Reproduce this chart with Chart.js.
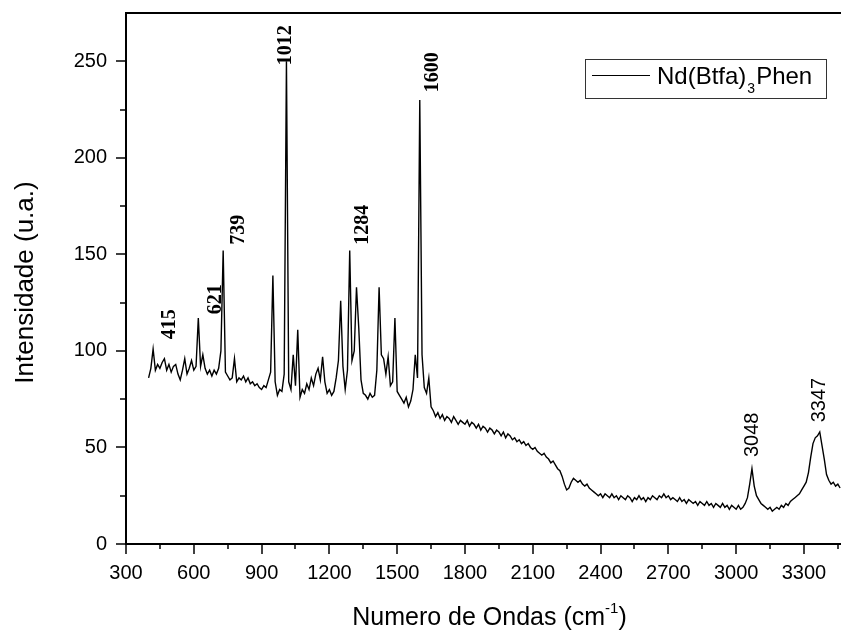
<!DOCTYPE html>
<html>
<head>
<meta charset="utf-8">
<script src="https://cdn.jsdelivr.net/npm/chart.js@4.4.0/dist/chart.umd.min.js"></script>
<style>
    html, body { margin: 0; padding: 0; background: #fff; }
    canvas { display: block; }
</style>
</head>
<body>
<canvas id="ramanChart" width="841" height="630"></canvas>
<script>
// Raman spectrum of Nd(Btfa)3Phen, sampled every 10 cm-1 starting at 400 cm-1
const waveStart = 400;
const waveStep = 10;
const intensity = [
    86, 91, 101, 90, 93, 91, 94, 96, 90, 93,      // 400
    89, 92, 93, 88, 85, 90, 96, 88, 91, 95,       // 500
    90, 92, 117, 92, 98, 91, 88, 90, 87, 90,      // 600
    88, 91, 100, 152, 89, 87, 85, 86, 96, 84,     // 700
    86, 85, 87, 84, 86, 83, 84, 82, 83, 81,       // 800
    80, 82, 81, 85, 89, 139, 84, 77, 80, 79,      // 900
    88, 250, 84, 80, 98, 82, 111, 76, 80, 78,     // 1000
    83, 80, 86, 82, 88, 91, 85, 97, 84, 78,       // 1100
    80, 77, 79, 86, 95, 126, 92, 80, 90, 152,     // 1200
    95, 100, 133, 112, 85, 78, 77, 75, 78, 76,    // 1300
    77, 90, 133, 98, 96, 88, 97, 82, 84, 117,     // 1400
    79, 77, 75, 73, 76, 71, 74, 80, 98, 86,       // 1500
    230, 98, 81, 78, 86, 71, 69, 66, 68, 65,      // 1600
    67, 64, 66, 65, 63, 66, 64, 62, 64, 63,       // 1700
    62, 64, 61, 63, 62, 60, 62, 59, 61, 60,       // 1800
    58, 60, 59, 57, 59, 58, 56, 58, 55, 57,       // 1900
    56, 54, 55, 53, 54, 52, 53, 51, 52, 50,       // 2000
    49, 50, 48, 47, 46, 47, 45, 44, 42, 43,       // 2100
    41, 39, 38, 35, 31, 28, 29, 32, 34, 33,       // 2200
    32, 33, 31, 30, 31, 29, 28, 27, 26, 25,       // 2300
    26, 24, 26, 25, 24, 26, 24, 25, 23, 25,       // 2400
    24, 23, 25, 24, 22, 24, 23, 25, 23, 24,       // 2500
    22, 24, 23, 25, 24, 23, 25, 24, 26, 24,       // 2600
    25, 23, 24, 23, 22, 24, 22, 23, 21, 23,       // 2700
    22, 21, 22, 20, 22, 21, 20, 22, 20, 21,       // 2800
    19, 21, 20, 19, 21, 19, 20, 18, 20, 19,       // 2900
    18, 20, 18, 19, 21, 24, 31, 39, 30, 25,       // 3000
    23, 21, 20, 19, 18, 19, 17, 18, 19, 18,       // 3100
    20, 19, 21, 20, 22, 23, 24, 25, 26, 28,       // 3200
    30, 32, 37, 45, 52, 55, 56, 58, 51, 44,       // 3300
    36, 33, 31, 32, 30, 31, 29                    // 3400
];

// peak labels and where their text starts (data units)
const peakLabels = ['415', '621', '739', '1012', '1284', '1600', '3048', '3347'];
const peakLabelX = [495, 698, 800, 1008, 1349, 1658, 3074, 3371];
const peakLabelY = [106, 119, 155, 248, 155, 234, 45, 63];

// tick positions (major ones get a label)
const xTickValues = [300, 450, 600, 750, 900, 1050, 1200, 1350, 1500, 1650, 1800, 1950,
    2100, 2250, 2400, 2550, 2700, 2850, 3000, 3150, 3300, 3450];
const yTickValues = [0, 25, 50, 75, 100, 125, 150, 175, 200, 225, 250];
const xTicksMajor = 300;
const yTicksMajor = 50;

const seriesName = 'Nd(Btfa)';
const seriesSub = '3';
const seriesTail = 'Phen';

const sansFont = '"Liberation Sans", Arial, sans-serif';
const serifFont = '"Liberation Serif", "Times New Roman", serif';

const points = intensity.map((v, i) => ({ x: waveStart + i * waveStep, y: v }));

const spectrumDecor = {
    id: 'spectrumDecor',
    afterDraw(chart) {
        const ctx = chart.ctx;
        const area = chart.chartArea;
        const xs = chart.scales.x;
        const ys = chart.scales.y;
        ctx.save();
        ctx.strokeStyle = '#000';
        ctx.fillStyle = '#000';

        // top frame
        ctx.lineWidth = 2;
        ctx.beginPath();
        ctx.moveTo(area.left - 1, area.top);
        ctx.lineTo(area.right, area.top);
        ctx.stroke();

        // tick marks (outward, minor ones shorter)
        ctx.lineWidth = 1.5;
        xs.ticks.forEach(t => {
            const px = Math.round(xs.getPixelForValue(t.value));
            const len = t.value % xTicksMajor === 0 ? 10 : 5;
            ctx.beginPath();
            ctx.moveTo(px, area.bottom);
            ctx.lineTo(px, area.bottom + len);
            ctx.stroke();
        });
        ys.ticks.forEach(t => {
            const py = Math.round(ys.getPixelForValue(t.value));
            const len = t.value % yTicksMajor === 0 ? 10 : 6;
            ctx.beginPath();
            ctx.moveTo(area.left, py);
            ctx.lineTo(area.left - len, py);
            ctx.stroke();
        });

        // peak annotations, rotated
        peakLabels.forEach((txt, i) => {
            const px = xs.getPixelForValue(peakLabelX[i]);
            const py = ys.getPixelForValue(peakLabelY[i]);
            ctx.save();
            ctx.translate(px, py);
            ctx.rotate(-Math.PI / 2);
            ctx.font = peakLabelX[i] > 3000 ? '20px ' + sansFont : 'bold 20px ' + serifFont;
            ctx.textAlign = 'left';
            ctx.textBaseline = 'middle';
            ctx.fillText(txt, 0, 0);
            ctx.restore();
        });

        // y axis title
        ctx.save();
        ctx.font = '26px ' + sansFont;
        ctx.translate(33, (area.top + area.bottom) / 2 + 4);
        ctx.rotate(-Math.PI / 2);
        ctx.textAlign = 'center';
        ctx.textBaseline = 'alphabetic';
        ctx.fillText('Intensidade (u.a.)', 0, 0);
        ctx.restore();

        // x axis title with superscript
        const mainTxt = 'Numero de Ondas (cm';
        ctx.font = '25px ' + sansFont;
        const w1 = ctx.measureText(mainTxt).width;
        const w3 = ctx.measureText(')').width;
        ctx.font = '15px ' + sansFont;
        const w2 = ctx.measureText('-1').width;
        let tx = (area.left + area.right) / 2 + 6 - (w1 + w2 + w3) / 2;
        const ty = 625;
        ctx.textAlign = 'left';
        ctx.textBaseline = 'alphabetic';
        ctx.font = '25px ' + sansFont;
        ctx.fillText(mainTxt, tx, ty);
        tx += w1;
        ctx.font = '15px ' + sansFont;
        ctx.fillText('-1', tx, ty - 12);
        tx += w2;
        ctx.font = '25px ' + sansFont;
        ctx.fillText(')', tx, ty);

        // legend box
        const lx = area.right - 256, ly = area.top + 46;
        ctx.lineWidth = 1;
        ctx.strokeStyle = '#333';
        ctx.strokeRect(lx + 0.5, ly + 0.5, 241, 39);
        ctx.strokeStyle = '#000';
        ctx.beginPath();
        ctx.moveTo(lx + 7, ly + 16.5);
        ctx.lineTo(lx + 65, ly + 16.5);
        ctx.stroke();
        ctx.font = '24px ' + sansFont;
        let gx = lx + 72;
        ctx.fillText(seriesName, gx, ly + 25);
        gx += ctx.measureText(seriesName).width + 1;
        ctx.font = '14px ' + sansFont;
        ctx.fillText(seriesSub, gx, ly + 34);
        gx += ctx.measureText(seriesSub).width + 1;
        ctx.font = '24px ' + sansFont;
        ctx.fillText(seriesTail, gx, ly + 25);

        ctx.restore();
    }
};

const ctx = document.getElementById('ramanChart').getContext('2d');
new Chart(ctx, {
    type: 'line',
    data: {
        datasets: [{
            label: seriesName + seriesSub + seriesTail,
            data: points,
            borderColor: '#000',
            borderWidth: 1.4,
            pointRadius: 0,
            tension: 0,
            fill: false
        }]
    },
    options: {
        responsive: false,
        animation: false,
        layout: { padding: { top: 13, right: 0, left: 0, bottom: 0 } },
        plugins: {
            legend: { display: false },
            tooltip: { enabled: false }
        },
        scales: {
            x: {
                type: 'linear',
                min: 300,
                max: 3464,
                afterBuildTicks: scale => { scale.ticks = xTickValues.map(v => ({ value: v })); },
                afterFit: scale => {
                    scale.height = 86;
                    scale.paddingLeft = 0;
                    scale.paddingRight = 0;
                },
                grid: { display: false, drawTicks: false },
                border: { display: true, color: '#000', width: 2 },
                ticks: {
                    autoSkip: false,
                    maxRotation: 0,
                    padding: 17,
                    color: '#000',
                    font: { family: sansFont, size: 20 },
                    callback: v => v % xTicksMajor === 0 ? v : ''
                }
            },
            y: {
                min: 0,
                max: 275,
                afterBuildTicks: scale => { scale.ticks = yTickValues.map(v => ({ value: v })); },
                afterFit: scale => {
                    scale.width = 126;
                    scale.paddingTop = 0;
                    scale.paddingBottom = 0;
                },
                grid: { display: false, drawTicks: false },
                border: { display: true, color: '#000', width: 2 },
                ticks: {
                    autoSkip: false,
                    padding: 19,
                    color: '#000',
                    font: { family: sansFont, size: 20 },
                    callback: v => v % yTicksMajor === 0 ? v : ''
                }
            }
        }
    },
    plugins: [spectrumDecor]
});
</script>
</body>
</html>
